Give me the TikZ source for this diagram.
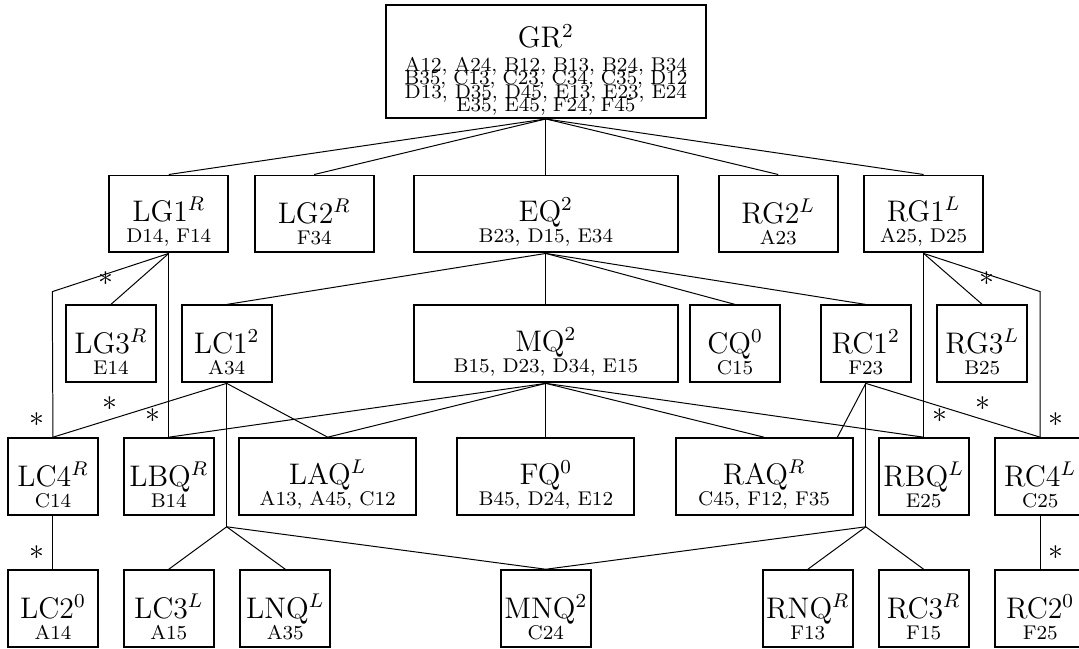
\documentclass[tikz,border=0pt]{standalone}

\newcommand{\nm}[1]{{\large\rule{0pt}{16.3pt}#1}}

\begin{document}
\begin{tikzpicture}
[cls/.style={shape=rectangle,draw,thick,align=center,inner sep=1pt,
   minimum width=36.3pt,minimum height=31pt,font=\footnotesize},
 wcls/.style={cls,minimum width=48pt},
 mcls/.style={cls,minimum width=71.3pt},
 bcls/.style={cls,minimum width=106.4pt},
 rootcls/.style={cls,minimum width=129pt,minimum height=45.5pt},
 ast/.style={font=\large}]

\useasboundingbox (0,0) rectangle (15.28,-9.18);

\draw (7.73,-0.87) node (GR) [rootcls] {\nm{GR$^2$}\\
	A12, A24, B12, B13, B24, B34\\[-4.1pt]
	B35, C13, C23, C34, C35, D12\\[-4.1pt]
	D13, D35, D45, E13, E23, E24\\[-4.1pt]
	E35, E45, F24, F45};

% second row
\draw (2.39,-3.03) node (LG1) [wcls] {\nm{LG1$^R$}\\[-1pt] D14, F14};
\draw (4.45,-3.03) node (LG2) [wcls] {\nm{LG2$^R$}\\[-1pt] F34};
\draw (7.73,-3.03) node (EQ) [bcls] {\nm{EQ$^2$}\\[-1pt] B23, D15, E34};
\draw (11.02,-3.03) node (RG2) [wcls] {\nm{RG2$^L$}\\[-1pt] A23};
\draw (13.08,-3.03) node (RG1) [wcls] {\nm{RG1$^L$}\\[-1pt] A25, D25};

% third row
\draw (1.57,-4.87) node (LG3) [cls] {\nm{LG3$^R$}\\[-1pt] E14};
\draw (3.21,-4.87) node (LC1) [cls] {\nm{LC1$^2$}\\[-1pt] A34};
\draw (7.73,-4.87) node (MQ) [bcls] {\nm{MQ$^2$}\\[-1pt] B15, D23, D34, E15};
\draw (10.41,-4.87) node (CQ) [cls] {\nm{CQ$^0$}\\[-1pt] C15};
\draw (12.26,-4.87) node (RC1) [cls] {\nm{RC1$^2$}\\[-1pt] F23};
\draw (13.91,-4.87) node (RG3) [cls] {\nm{RG3$^L$}\\[-1pt] B25};

% fourth row
\draw (0.75,-6.75) node (LC4) [cls] {\nm{LC4$^R$}\\[-1pt] C14};
\draw (2.39,-6.75) node (LBQ) [cls] {\nm{LBQ$^R$}\\[-1pt] B14};
\draw (4.64,-6.75) node (LAQ) [mcls] {\nm{LAQ$^L$}\\[-1pt] A13, A45, C12};
\draw (7.73,-6.75) node (FQ) [mcls] {\nm{FQ$^0$}\\[-1pt] B45, D24, E12};
\draw (10.82,-6.75) node (RAQ) [mcls] {\nm{RAQ$^R$}\\[-1pt] C45, F12, F35};
\draw (13.08,-6.75) node (RBQ) [cls] {\nm{RBQ$^L$}\\[-1pt] E25};
\draw (14.73,-6.75) node (RC4) [cls] {\nm{RC4$^L$}\\[-1pt] C25};

% bottom row
\draw (0.75,-8.62) node (LC2) [cls] {\nm{LC2$^0$}\\[-1pt] A14};
\draw (2.39,-8.62) node (LC3) [cls] {\nm{LC3$^L$}\\[-1pt] A15};
\draw (4.04,-8.62) node (LNQ) [cls] {\nm{LNQ$^L$}\\[-1pt] A35};
\draw (7.73,-8.62) node (MNQ) [cls] {\nm{MNQ$^2$}\\[-1pt] C24};
\draw (11.44,-8.62) node (RNQ) [cls] {\nm{RNQ$^R$}\\[-1pt] F13};
\draw (13.08,-8.62) node (RC3) [cls] {\nm{RC3$^R$}\\[-1pt] F15};
\draw (14.73,-8.62) node (RC2) [cls] {\nm{RC2$^0$}\\[-1pt] F25};

\coordinate (lbend) at (0.74,-4.13);
\coordinate (rbend) at (14.73,-4.13);
\coordinate (ljoin) at (3.21,-7.46);
\coordinate (rjoin) at (12.26,-7.46);

\draw (GR.south) -- (LG1.north);
\draw (GR.south) -- (LG2.north);
\draw (GR.south) -- (EQ.north);
\draw (GR.south) -- (RG2.north);
\draw (GR.south) -- (RG1.north);

\draw (LG1.south) -- (lbend) -- node[ast,pos=0.88,left] {$*$} (LC4.north);
\draw (LG1.south) -- node[ast,pos=0.8,above left] {$*$} (LG3.north);
\draw (LG1.south) -- node[ast,pos=0.88,left] {$*$} (LBQ.north);

\draw (EQ.south) -- (LC1.north);
\draw (EQ.south) -- (MQ.north);
\draw (EQ.south) -- (CQ.north);
\draw (EQ.south) -- (RC1.north);

\draw (RG1.south) -- node[ast,pos=0.88,right] {$*$} (RBQ.north);
\draw (RG1.south) -- node[ast,pos=0.8,above right] {$*$} (RG3.north);
\draw (RG1.south) -- (rbend) -- node[ast,pos=0.88,right] {$*$} (RC4.north);

\draw (LC1.south) -- node[ast,pos=0.67,above] {$*$} (LC4.north);
\draw (LC1.south) -- (LAQ.north);
\draw (LC1.south) -- (ljoin);

\draw (MQ.south) -- (LBQ.north);
\draw (MQ.south) -- (LAQ.north);
\draw (MQ.south) -- (FQ.north);
\draw (MQ.south) -- (RAQ.north);
\draw (MQ.south) -- (RBQ.north);

\draw (RC1.south) -- ([xshift=-6.5pt]RAQ.north east);
\draw (RC1.south) -- node[ast,pos=0.67,above] {$*$} (RC4.north);
\draw (RC1.south) -- (rjoin);

\draw (ljoin) -- (LC3.north);
\draw (ljoin) -- (LNQ.north);
\draw (ljoin) -- (MNQ.north);
\draw (rjoin) -- (RNQ.north);
\draw (rjoin) -- (RC3.north);
\draw (rjoin) -- (MNQ.north);

\draw (LC4.south) -- node[ast,pos=0.69,left] {$*$} (LC2.north);
\draw (RC4.south) -- node[ast,pos=0.69,right] {$*$} (RC2.north);
\end{tikzpicture}
\end{document}
